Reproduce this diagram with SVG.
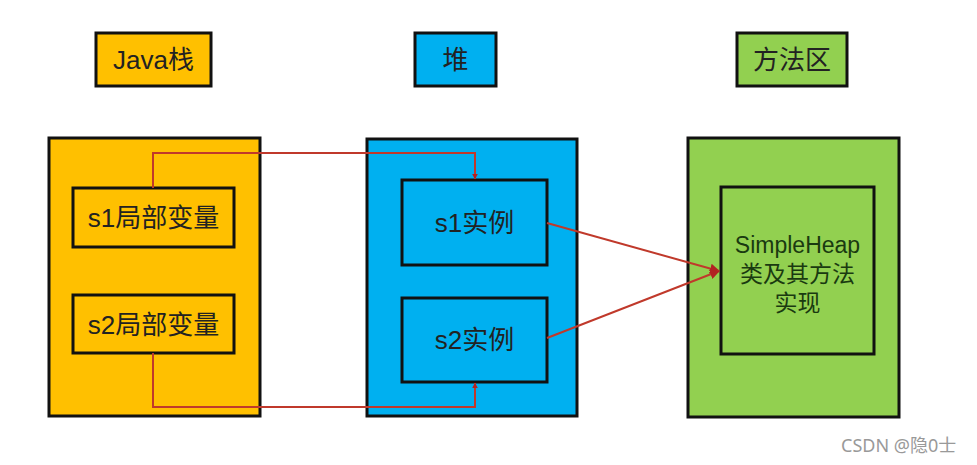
<svg xmlns="http://www.w3.org/2000/svg" width="977" height="465" viewBox="0 0 977 465">
<defs>
<style>
.o{fill:#FFC000;stroke:#111;stroke-width:3}
.b{fill:#00B0F0;stroke:#111;stroke-width:3}
.g{fill:#92D050;stroke:#111;stroke-width:3}
.t{font-family:"Liberation Sans","Noto Sans CJK SC",sans-serif;font-size:26px;fill:#222;text-anchor:middle;dominant-baseline:central}
.s{font-family:"Liberation Sans","Noto Sans CJK SC",sans-serif;font-size:23px;fill:#1a3a10;text-anchor:middle;dominant-baseline:central}
.c{fill:none;stroke:#C0392B;stroke-width:2}
</style>
<marker id="ah" viewBox="0 0 10 10" refX="9" refY="5" markerWidth="6" markerHeight="6" orient="auto" markerUnits="userSpaceOnUse">
<path d="M0,0 L10,5 L0,10 z" fill="#B22222"/>
</marker>
<marker id="ah2" viewBox="0 0 10 10" refX="9" refY="5" markerWidth="10" markerHeight="10" orient="auto" markerUnits="userSpaceOnUse">
<path d="M0,0 L10,5 L0,10 z" fill="#B22222"/>
</marker>
</defs>
<rect width="977" height="465" fill="#fff"/>
<g id="label-java"><rect class="o" x="96" y="33" width="115" height="53"/><text class="t" x="153.5" y="60">Java栈</text></g>
<g id="label-heap"><rect class="b" x="415" y="33" width="81" height="53"/><text class="t" x="455.5" y="60">堆</text></g>
<g id="label-method"><rect class="g" x="737" y="33" width="110" height="53"/><text class="t" x="792" y="60">方法区</text></g>
<g id="java-stack"><rect class="o" x="49" y="138" width="211" height="278"/></g>
<g id="heap"><rect class="b" x="367" y="139" width="210" height="277"/></g>
<g id="method-area"><rect class="g" x="688" y="138" width="211" height="279"/></g>
<g id="s1-local"><rect class="o" x="73" y="188" width="161" height="59"/><text class="t" x="153.5" y="218">s1局部变量</text></g>
<g id="s2-local"><rect class="o" x="73" y="295" width="161" height="58"/><text class="t" x="153.5" y="325">s2局部变量</text></g>
<g id="s1-inst"><rect class="b" x="402" y="180" width="145" height="85"/><text class="t" x="474.5" y="223">s1实例</text></g>
<g id="s2-inst"><rect class="b" x="402" y="298" width="145" height="84"/><text class="t" x="474.5" y="340">s2实例</text></g>
<g id="simpleheap"><rect class="g" x="721" y="187" width="153" height="167"/>
<text class="s" x="797.5" y="245">SimpleHeap</text>
<text class="s" x="797.5" y="274">类及其方法</text>
<text class="s" x="797.5" y="303">实现</text></g>
<g id="connectors">
<path class="c" d="M153,188 V153 H475 V179" marker-end="url(#ah)"/>
<path class="c" d="M153,353 V407 H475 V383" marker-end="url(#ah)"/>
<path class="c" d="M547,223 L719,271" marker-end="url(#ah2)"/>
<path class="c" d="M547,338 L719,271" marker-end="url(#ah2)"/>
</g>
<text x="841" y="452" style="font-family:'Noto Sans','Noto Sans CJK SC',sans-serif;font-size:18px;fill:#999">CSDN @隐0士</text>
</svg>
